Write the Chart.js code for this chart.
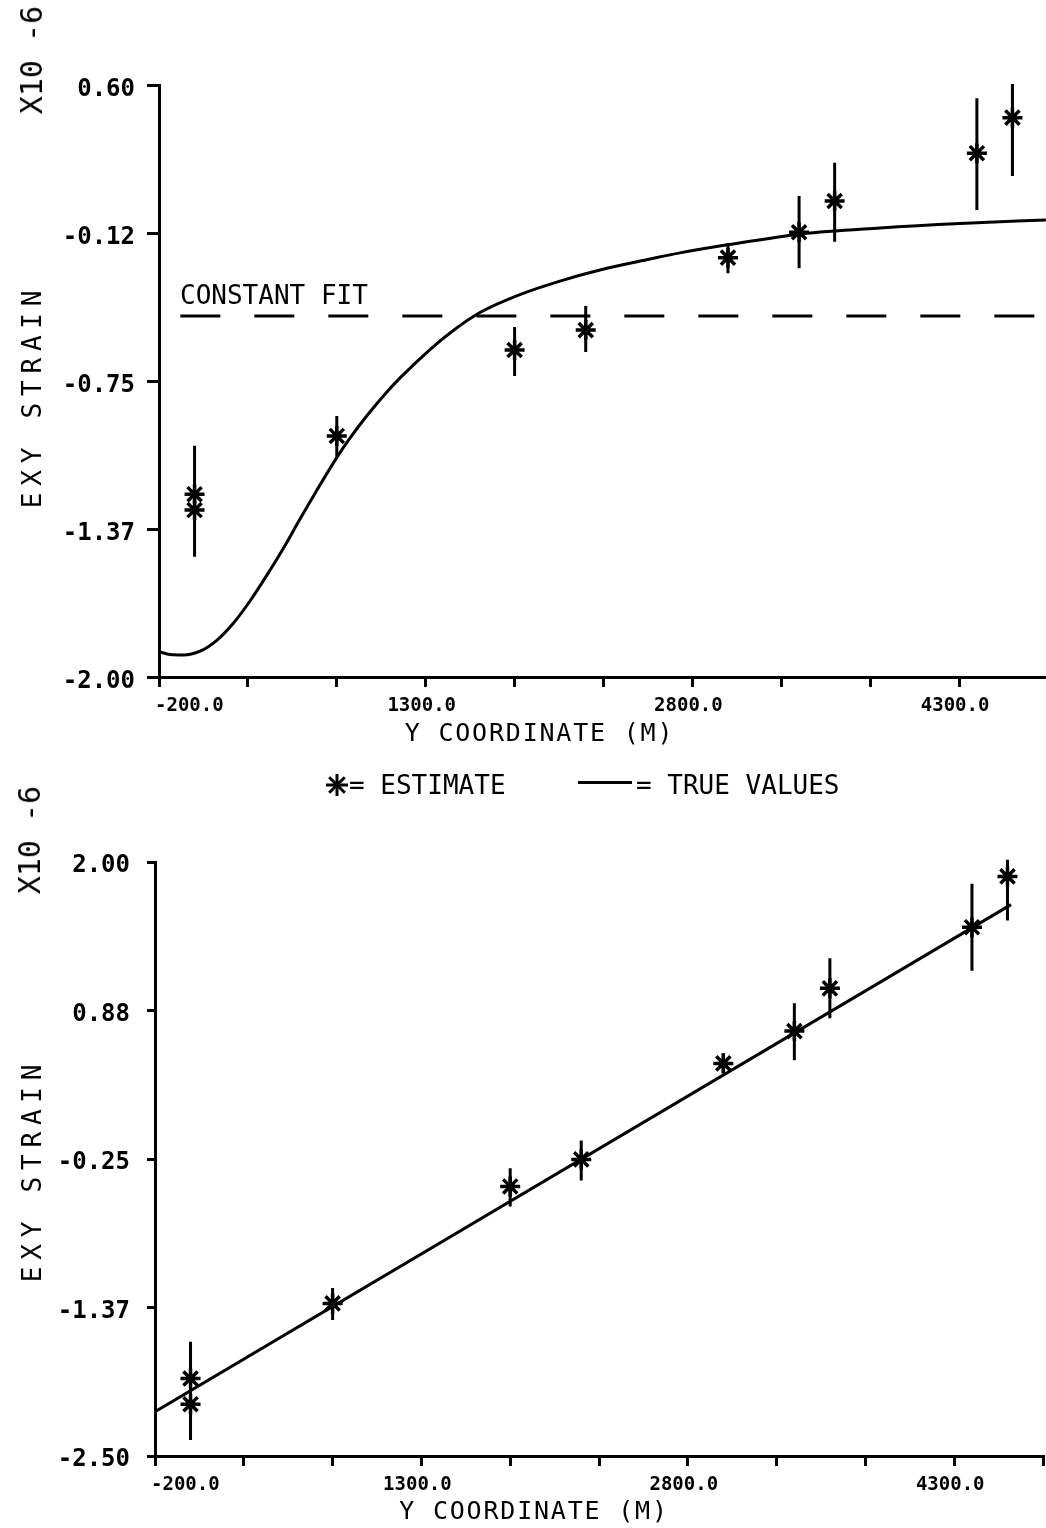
<!DOCTYPE html>
<html><head><meta charset="utf-8">
<script src="https://cdn.jsdelivr.net/npm/chart.js@4.4.1/dist/chart.umd.min.js"></script>
<style>
html,body{margin:0;padding:0;background:#fff;}
body{width:1046px;height:1528px;overflow:hidden;position:relative;font-family:'DejaVu Sans Mono',monospace;color:#000;}
canvas{position:absolute;left:0;}
#c1{top:0;}
#c2{top:790px;}
.txt{position:absolute;white-space:nowrap;line-height:1;}
.rot{transform:translate(-50%,-50%) rotate(-90deg);}
</style></head><body>
<canvas id="c1" width="1056" height="760"></canvas>
<canvas id="c2" width="1051" height="738"></canvas>
<div class="txt rot" style="left:32px;top:60px;font-size:30px;">X10 -6</div>
<div class="txt rot" style="left:30px;top:840px;font-size:30px;">X10 -6</div>
<div class="txt" style="left:180px;top:282px;font-size:26px;">CONSTANT FIT</div>
<div class="txt" style="left:326px;top:774px;width:22px;height:22px;">
<svg width="22" height="22" viewBox="0 0 22 22"><g stroke="#000" stroke-width="3"><line x1="11" y1="0" x2="11" y2="22"/><line x1="0" y1="11" x2="22" y2="11"/><line x1="3.2" y1="3.2" x2="18.8" y2="18.8"/><line x1="18.8" y1="3.2" x2="3.2" y2="18.8"/></g></svg></div>
<div class="txt" style="left:349px;top:772px;font-size:26px;">= ESTIMATE</div>
<div style="position:absolute;left:578px;top:781px;width:54px;height:3px;background:#000;"></div>
<div class="txt" style="left:636px;top:772px;font-size:26px;">= TRUE VALUES</div>
<script>
// ---- data ----
const xPos = [0, 0, 800, 1800, 2200, 3000, 3400, 3600, 4400, 4600];

const topEstimate = [-1.228, -1.295, -0.982, -0.619, -0.535, -0.229, -0.122, 0.010, 0.212, 0.362];
const topErrLow   = [-1.492, -1.492, -1.070, -0.729, -0.628, -0.295, -0.274, -0.162, -0.028, 0.116];
const topErrHigh  = [-1.023, -1.023, -0.898, -0.522, -0.433, -0.167, 0.031, 0.172, 0.444, 0.504];
const topTrueX = [-200, -138, -63, 31, 125, 218, 312, 406, 499, 593, 687, 805, 874, 968, 1062, 1156, 1324, 1437, 1605, 1830, 2055, 2280, 2562, 2730, 3006, 3415, 3855, 4305, 4788];
const topTrueY = [-1.893, -1.905, -1.907, -1.891, -1.845, -1.773, -1.679, -1.571, -1.457, -1.333, -1.212, -1.067, -0.991, -0.898, -0.813, -0.737, -0.617, -0.547, -0.461, -0.385, -0.328, -0.281, -0.235, -0.209, -0.174, -0.129, -0.104, -0.085, -0.070];
const constantFitX = [-80, 4800];
const constantFitY = [-0.476, -0.476];

const botEstimate = [-1.913, -2.108, -1.344, -0.458, -0.253, 0.474, 0.719, 1.043, 1.506, 1.891];
const botErrLow   = [-2.379, -2.379, -1.470, -0.610, -0.412, 0.400, 0.499, 0.816, 1.177, 1.557];
const botErrHigh  = [-1.635, -1.635, -1.227, -0.321, -0.109, 0.552, 0.929, 1.271, 1.835, 2.017];
const botTrueX = [-200, 4620];
const botTrueY = [-2.165, 1.677];

const xTickValues = [-200, 1300, 2800, 4300];
const xTickLabels = ['-200.0', '1300.0', '2800.0', '4300.0'];
const yTickLabelsTop = ['-2.00', '-1.37', '-0.75', '-0.12', '0.60'];
const yTickLabelsBottom = ['-2.50', '-1.37', '-0.25', '0.88', '2.00'];
const xTitle = 'Y COORDINATE (M)';
const yTitle = 'EXY STRAIN';

// ---- helpers ----
const FONT = "'DejaVu Sans Mono', monospace";
const pts = (xs, ys) => xs.map((x, i) => ({x: x, y: ys[i]}));
const bars = (xs, lo, hi) => xs.flatMap((x, i) => [{x: x, y: lo[i]}, {x: x, y: hi[i]}, {x: x, y: null}]);

const titleShift = {
  id: 'titleShift',
  beforeDraw(chart, args, opts) {
    Object.values(chart.scales).forEach(s => {
      if (s._tsPatched) return;
      const orig = s.drawTitle;
      const o = (opts && opts[s.id]) || {};
      s.drawTitle = function () {
        const ctx = this.ctx;
        ctx.save();
        ctx.letterSpacing = (o.sp || 0) + 'px';
        ctx.translate(o.dx || 0, o.dy || 0);
        orig.call(this);
        ctx.restore();
      };
      s._tsPatched = true;
    });
  }
};

function makeChart(id, c) {
  const ds = [
    {data: pts(c.trueX, c.trueY), showLine: true, borderColor: '#000', borderWidth: 3,
     pointRadius: 0, cubicInterpolationMode: 'monotone'}
  ];
  if (c.fitX) ds.push({data: pts(c.fitX, c.fitY), showLine: true, borderColor: '#000',
     borderWidth: 3, pointRadius: 0, borderDash: [40, 34]});
  ds.push({data: bars(xPos, c.lo, c.hi), showLine: true, spanGaps: false, borderColor: '#000',
     borderWidth: 3, pointRadius: 0, clip: false});
  ds.push({data: pts(xPos, c.est), pointStyle: 'star', pointRadius: 10, borderWidth: 3.5,
     borderColor: '#000', backgroundColor: '#000', clip: false});

  return new Chart(document.getElementById(id), {
    type: 'scatter',
    data: {datasets: ds},
    options: {
      responsive: false, animation: false, events: [],
      layout: {autoPadding: false, padding: {top: c.padTop, left: 0, right: 0, bottom: 0}},
      plugins: {
        legend: {display: false}, tooltip: {enabled: false},
        titleShift: {x: {dx: c.xdx, dy: 0, sp: 1.8}, y: {dx: 0, dy: c.ydy, sp: 6.8}}
      },
      scales: {
        x: {
          type: 'linear', min: -200, max: 4800,
          ticks: {
            stepSize: 500, autoSkip: false, maxRotation: 0, minRotation: 0,
            padding: c.xTickPad, labelOffset: -4, color: '#000',
            font: {family: FONT, size: 19, weight: 'bold'},
            callback: v => {
              const i = xTickValues.indexOf(v);
              if (i < 0) return '';
              return i === 0 ? '      ' + xTickLabels[0] : xTickLabels[i];
            }
          },
          grid: {drawOnChartArea: false, drawTicks: true, tickLength: 10, color: '#000', lineWidth: 3},
          border: {display: true, color: '#000', width: 3},
          title: {display: true, text: xTitle, color: '#000', font: {family: FONT, size: 25},
                  padding: {top: 0, bottom: c.xTitlePad}},
          afterFit: s => { s.height = c.xAxisH; }
        },
        y: {
          type: 'linear', min: c.yMin, max: c.yMax,
          ticks: {
            stepSize: c.yStep, autoSkip: false, padding: c.yTickPad, labelOffset: c.yLabelOff,
            color: '#000', font: {family: FONT, size: 24, weight: 'bold'},
            callback: (v, i) => c.yLabels[i]
          },
          grid: {drawOnChartArea: false, drawTicks: true, tickLength: c.yTickLen, color: '#000', lineWidth: 3},
          border: {display: true, color: '#000', width: 3},
          title: {display: true, text: yTitle, color: '#000', font: {family: FONT, size: 26},
                  padding: {top: 19, bottom: 0}},
          afterFit: s => { s.width = c.yAxisW; }
        }
      }
    },
    plugins: [titleShift]
  });
}

makeChart('c1', {
  trueX: topTrueX, trueY: topTrueY, fitX: constantFitX, fitY: constantFitY,
  est: topEstimate, lo: topErrLow, hi: topErrHigh,
  yMin: -2.0, yMax: 0.5, yStep: 0.625, yLabels: yTickLabelsTop,
  padTop: 85, xAxisH: 83, yAxisW: 159, yTickLen: 12, yTickPad: 12, yLabelOff: 5,
  xTickPad: 8, xTitlePad: 11, xdx: -64, ydy: 15
});
makeChart('c2', {
  trueX: botTrueX, trueY: botTrueY,
  est: botEstimate, lo: botErrLow, hi: botErrHigh,
  yMin: -2.5, yMax: 2.0, yStep: 1.125, yLabels: yTickLabelsBottom,
  padTop: 72, xAxisH: 72, yAxisW: 155, yTickLen: 8, yTickPad: 17, yLabelOff: 4,
  xTickPad: 8, xTitlePad: 1, xdx: -65, ydy: 11
});
</script>
</body></html>
